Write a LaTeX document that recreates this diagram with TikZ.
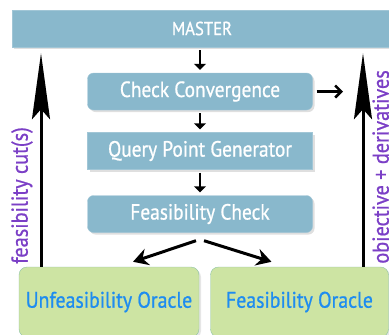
\documentclass[tikz,border=0pt]{standalone}
\usepackage{fontspec}
\setmainfont{PT Sans}[FakeStretch=0.88, FakeBold=0.8]
\usetikzlibrary{arrows.meta,shadows,calc}
\definecolor{boxblue}{HTML}{89B8CC}
\definecolor{boxgreen}{HTML}{CDE4A3}
\definecolor{greenline}{HTML}{8FC3A6}
\definecolor{oracletext}{HTML}{1E8CF0}
\definecolor{cutpurple}{HTML}{7B3FC6}
\begin{document}
\begin{tikzpicture}
[
    x=1pt, y=-1pt,
    stage/.style={draw=boxblue!80!white, fill=boxblue, text=white, minimum width=225pt, minimum height=37pt,
        font=\fontsize{22}{22}\selectfont, drop shadow={shadow xshift=2pt, shadow yshift=-2pt, opacity=0.25}},
    oracle/.style={draw=greenline, fill=boxgreen, text=oracletext, rounded corners=8pt, minimum width=180pt,
        minimum height=70pt, font=\fontsize{22.5}{22.5}\selectfont, drop shadow={shadow xshift=2pt, shadow yshift=-2pt, opacity=0.2}},
    flow/.style={line width=2.5pt, -{Triangle[length=6pt,width=12pt]}},
    fork/.style={line width=3pt, -{Stealth[length=15pt,width=17pt,inset=5pt]}},
    feedback/.style={line width=3pt, -{Stealth[length=66pt,width=18pt,inset=10pt]}},
    side/.style={text=cutpurple, rotate=90, anchor=east, inner sep=0pt, font=\fontsize{23}{23}\selectfont},
]
\useasboundingbox (0,0) rectangle (389,335);
\node[stage, minimum width=380pt, font=\fontsize{19}{19}\selectfont] (master) at (202,28.5) {MASTER};
\node[stage, rounded corners=6pt] (cc) at (200,91.5) {Check Convergence};
\node[stage] (qpg) at (200,151) {Query Point Generator};
\node[stage, rounded corners=6pt] (fc) at (200,214) {Feasibility Check};
\node[oracle] (uo) at (109,302) {Unfeasibility Oracle};
\node[oracle, minimum width=178pt] (fo) at (299.5,302) {Feasibility Oracle};
\coordinate (lx) at (41,0);
\coordinate (rx) at (363,0);
\coordinate (ccout) at (343,91.5);
\draw[flow, shorten <=3pt, shorten >=3pt] (master.south -| cc) -- (cc.north);
\draw[flow, shorten <=3pt, shorten >=3pt] (cc) -- (qpg.north);
\draw[flow, shorten <=3pt, shorten >=3pt] (qpg) -- (fc.north);
\draw[line width=2.5pt, -{Straight Barb[length=6pt,width=12pt]}] ([xshift=4pt]cc.east) -- (ccout);
\draw[fork] ($(fc.south)+(-4,8)$) -- ($(uo.north)+(24,-5)$);
\draw[fork] ($(fc.south)+(4,8)$) -- ($(fo.north)+(-28,-5)$);
\draw[feedback, shorten >=6pt] (uo.north -| lx) -- (master.south -| lx);
\draw[feedback, shorten >=6pt] (fo.north -| rx) -- (master.south -| rx);
\node[side] (cutlbl) at (22,127) {feasibility cut(s)};
\node[side] (objlbl) at (383,70) {objective + derivatives};
\end{tikzpicture}
\end{document}
